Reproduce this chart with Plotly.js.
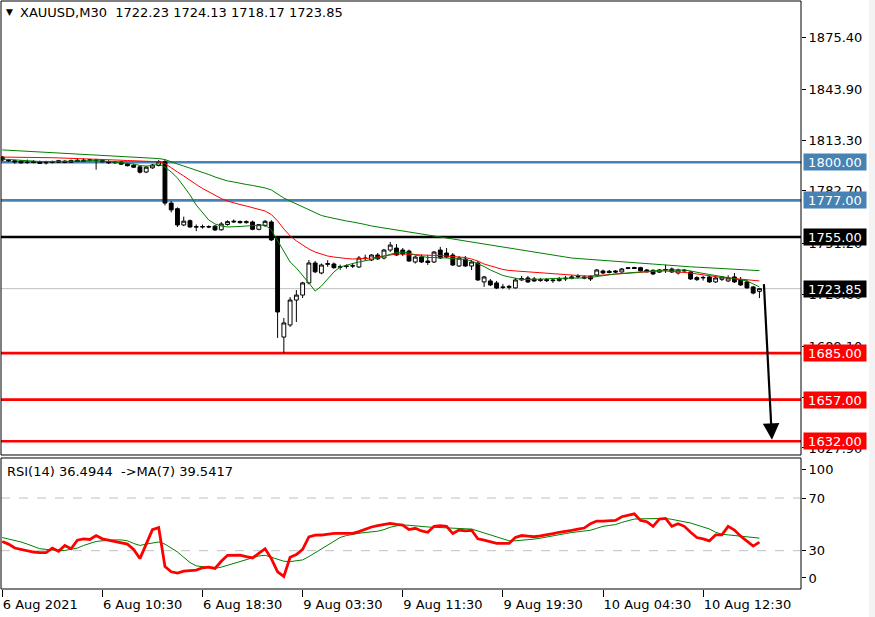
<!DOCTYPE html>
<html>
<head>
<meta charset="utf-8">
<script src="https://cdn.plot.ly/plotly-3.0.1.min.js"></script>
<style>html,body{margin:0;padding:0;background:#fff;}#chart{width:875px;height:617px;}</style>
</head>
<body>
<div id="chart"></div>
<script>
// ---- Price candles (XAUUSD M30), bar 0 = 6 Aug 2021 02:30 ----
const open  = [1803.1,1801.3,1800.9,1800.7,1799.8,1800.5,1800.4,1799.6,1799.8,1800.9,
1800.6,1799.9,1801.2,1800.5,1801.0,1801.4,1801.1,1800.4,1799.7,1800.0,
1799.0,1798.1,1797.2,1794.1,1796.6,1798.0,1800.2,1775.4,1772.0,1762.2,
1764.8,1761.2,1761.0,1761.2,1761.5,1759.3,1762.5,1764.0,1764.3,1763.6,
1764.0,1759.6,1761.8,1764.0,1754.3,1694.7,1702.0,1717.0,1720.0,1727.3,
1739.3,1733.3,1738.5,1738.7,1736.8,1737.2,1737.5,1736.9,1742.3,1741.1,
1744.1,1742.3,1747.1,1748.3,1747.1,1746.5,1739.9,1742.9,1740.5,1739.9,
1747.1,1745.3,1744.1,1737.5,1741.7,1737.5,1739.3,1727.9,1728.5,1727.3,
1724.9,1724.6,1724.3,1729.1,1730.3,1729.7,1728.7,1729.3,1729.1,1728.7,
1729.7,1730.1,1730.9,1730.9,1731.2,1732.1,1734.5,1734.3,1734.5,1733.9,
1736.0,1736.6,1736.5,1735.1,1734.9,1733.8,1735.1,1735.7,1733.3,1735.0,
1733.9,1730.5,1730.3,1730.9,1727.9,1729.5,1728.5,1730.9,1729.1,1727.9,
1724.9,1722.23];
const high  = [1803.7,1802.0,1801.5,1801.3,1801.6,1801.2,1801.0,1800.9,1801.0,1801.4,
1801.3,1801.6,1801.9,1802.3,1802.0,1802.1,1801.8,1801.2,1800.5,1800.6,
1799.6,1799.0,1797.8,1797.7,1799.0,1801.4,1801.6,1776.5,1772.8,1767.2,
1765.5,1762.5,1762.4,1762.0,1762.2,1764.0,1765.0,1765.5,1764.9,1765.0,
1764.8,1762.8,1765.2,1765.0,1755.0,1706.2,1718.8,1723.0,1728.0,1741.1,
1740.5,1739.0,1741.0,1739.6,1738.3,1738.5,1739.2,1743.5,1744.3,1744.6,
1745.3,1747.8,1751.9,1750.7,1748.3,1747.4,1743.8,1744.4,1744.1,1746.5,
1749.0,1748.3,1745.3,1743.5,1743.5,1741.1,1740.5,1731.5,1729.7,1728.5,
1726.7,1726.1,1730.3,1731.5,1731.5,1730.9,1730.3,1730.3,1729.9,1730.9,
1731.5,1732.1,1732.7,1731.9,1731.8,1735.7,1735.3,1735.1,1735.0,1736.3,
1736.8,1737.0,1737.0,1735.6,1735.5,1735.7,1738.3,1736.6,1735.9,1735.7,
1734.6,1731.3,1731.5,1731.5,1730.9,1731.1,1731.9,1733.3,1730.9,1729.1,
1725.5,1724.13];
const low   = [1800.7,1800.3,1799.0,1799.2,1799.0,1799.4,1799.0,1798.6,1799.3,1799.5,
1799.4,1799.6,1800.2,1800.1,1800.5,1795.5,1799.8,1799.0,1799.0,1798.3,
1797.5,1796.5,1793.2,1793.4,1796.0,1797.5,1774.0,1769.8,1761.0,1761.5,
1760.5,1758.5,1760.0,1760.3,1758.6,1758.8,1761.8,1763.4,1763.0,1763.0,
1759.0,1759.0,1761.0,1752.5,1694.2,1685.1,1700.8,1703.8,1718.2,1726.5,
1733.2,1732.5,1737.0,1735.8,1735.2,1735.9,1736.3,1736.3,1740.5,1740.5,
1741.1,1741.5,1746.0,1743.5,1743.5,1740.0,1739.0,1739.3,1738.1,1739.3,
1741.7,1742.3,1737.5,1736.9,1737.0,1735.1,1728.5,1724.9,1725.4,1723.6,
1723.6,1723.3,1723.9,1728.5,1727.3,1727.9,1728.0,1727.9,1727.3,1728.1,
1728.5,1729.5,1730.0,1729.5,1728.5,1731.5,1732.7,1733.0,1733.3,1733.5,
1735.6,1735.8,1734.0,1733.5,1732.0,1733.3,1733.3,1733.3,1732.4,1734.1,
1729.1,1728.5,1728.7,1727.3,1727.3,1728.5,1727.9,1727.3,1725.5,1723.9,
1720.4,1718.17];
const close = [1801.3,1800.9,1800.2,1799.6,1800.0,1799.8,1799.3,1799.8,1800.4,1800.0,
1799.8,1801.0,1800.4,1801.2,1801.5,1801.0,1800.2,1799.6,1799.9,1798.8,
1797.9,1797.0,1794.0,1797.0,1798.3,1800.2,1775.4,1771.3,1762.2,1764.5,
1761.0,1761.0,1761.2,1761.0,1759.2,1762.8,1764.2,1764.4,1763.6,1764.2,
1759.6,1762.4,1764.4,1753.2,1709.8,1703.2,1717.0,1720.0,1727.3,1739.3,
1734.0,1738.1,1738.9,1736.5,1737.0,1737.5,1737.6,1742.3,1742.0,1744.1,
1741.8,1747.1,1750.1,1744.1,1744.7,1740.5,1742.9,1739.9,1739.6,1745.9,
1742.3,1742.9,1738.1,1742.3,1737.5,1739.9,1729.1,1730.9,1726.1,1724.2,
1724.6,1725.2,1729.1,1729.9,1727.9,1728.5,1729.3,1728.7,1728.7,1729.7,
1730.1,1730.9,1731.2,1730.3,1729.7,1735.1,1733.3,1733.6,1733.9,1735.7,
1736.4,1736.0,1734.6,1734.0,1732.7,1735.1,1735.4,1733.9,1735.1,1734.6,
1729.7,1729.3,1730.6,1727.9,1730.3,1730.9,1730.3,1727.9,1726.1,1724.3,
1721.2,1723.85];

// ---- Moving averages on price ----
const maSlow = [1807.4,1807.2,1807.0,1806.8,1806.6,1806.5,1806.3,1806.1,1805.9,1805.7,
1805.5,1805.3,1805.1,1804.8,1804.6,1804.3,1804.1,1803.9,1803.6,1803.4,
1803.1,1803.0,1802.8,1802.6,1802.4,1802.2,1801.6,1800.1,1798.9,1797.7,
1796.5,1795.3,1794.1,1792.6,1791.1,1789.9,1788.7,1788.1,1787.2,1786.6,
1786.0,1785.4,1784.5,1783.3,1780.9,1778.4,1776.6,1774.8,1773.0,1771.2,
1769.4,1767.9,1767.0,1766.1,1765.2,1764.6,1764.0,1763.4,1762.5,1761.6,
1761.0,1760.4,1759.8,1759.2,1758.6,1758.0,1757.4,1756.8,1756.2,1755.6,
1755.0,1754.4,1753.8,1753.2,1752.3,1751.7,1751.0,1750.4,1749.8,1749.2,
1748.6,1748.0,1747.4,1746.8,1746.2,1745.6,1745.0,1744.4,1743.8,1743.2,
1742.6,1742.3,1742.0,1741.7,1741.4,1741.1,1740.8,1740.5,1740.2,1739.9,
1739.6,1739.3,1739.0,1738.7,1738.4,1738.1,1737.9,1737.7,1737.5,1737.3,
1737.0,1736.8,1736.6,1736.4,1736.2,1736.0,1735.9,1735.7,1735.4,1735.2,
1735.0,1734.7];
const maMid = [1803.1,1803.1,1803.0,1803.0,1802.9,1802.8,1802.8,1802.7,1802.7,1802.6,
1802.5,1802.4,1802.3,1802.2,1802.0,1801.9,1801.7,1801.6,1801.4,1801.2,
1801.0,1800.9,1800.7,1800.5,1800.4,1800.3,1799.2,1796.5,1794.1,1791.7,
1789.0,1786.6,1784.2,1782.0,1779.9,1778.1,1776.6,1775.4,1774.5,1773.6,
1772.7,1771.8,1770.6,1768.5,1764.6,1759.8,1755.6,1752.6,1749.9,1747.7,
1745.9,1744.7,1743.5,1742.9,1742.3,1742.0,1741.7,1741.7,1742.0,1742.3,
1742.9,1743.5,1744.1,1744.7,1744.7,1744.7,1744.4,1744.1,1744.1,1743.8,
1743.8,1743.5,1743.2,1742.9,1742.6,1741.7,1740.5,1738.7,1737.5,1736.3,
1735.4,1734.8,1734.5,1734.2,1733.9,1733.6,1733.3,1733.0,1732.7,1732.4,
1732.1,1731.8,1731.5,1731.5,1731.5,1731.8,1732.1,1732.1,1732.4,1732.7,
1733.3,1733.6,1733.9,1734.2,1734.5,1734.5,1734.5,1734.2,1733.9,1733.9,
1733.3,1732.7,1732.1,1731.5,1730.9,1730.6,1730.3,1730.0,1729.7,1729.4,
1729.1,1728.5];
const maFast = [1801.9,1801.6,1801.3,1801.0,1800.7,1800.7,1800.4,1800.4,1800.4,1800.4,
1800.4,1800.7,1800.7,1800.7,1801.0,1801.0,1800.7,1800.4,1800.1,1799.8,
1799.5,1798.9,1798.0,1797.7,1798.0,1798.9,1797.1,1794.1,1790.5,1785.7,
1780.3,1774.2,1769.4,1765.2,1762.8,1761.6,1761.0,1761.0,1761.3,1761.6,
1761.9,1762.2,1762.2,1759.2,1752.6,1745.9,1739.9,1736.3,1732.1,1727.3,
1722.4,1725.4,1729.7,1733.9,1736.9,1738.1,1739.0,1739.9,1740.5,1741.4,
1742.3,1743.5,1744.7,1745.6,1745.9,1745.3,1744.1,1743.2,1742.6,1742.6,
1742.6,1742.3,1742.0,1741.7,1741.4,1740.5,1739.0,1737.2,1735.1,1733.3,
1731.8,1730.9,1730.0,1729.4,1729.4,1729.4,1729.7,1729.7,1730.0,1730.0,
1730.3,1730.3,1730.3,1730.3,1730.6,1731.2,1731.8,1732.1,1732.7,1733.0,
1733.3,1733.9,1734.2,1734.5,1734.5,1734.8,1735.1,1735.1,1735.1,1735.1,
1734.5,1733.6,1733.0,1732.4,1731.8,1731.2,1730.6,1730.0,1729.4,1728.5,
1726.7,1724.9];

// ---- RSI(14) and its MA(7) ----
const rsi = [37,35,32,31,29.5,29,28.5,28.5,32,29.5,
34,31.5,38,39,38.5,41.5,39,38,37.5,36.5,
35,31,24,35,46,47.5,18,14,13,14.5,
15,15.2,17,17.5,16.5,22,26.5,26.7,26.7,25.5,
24.5,28,31.5,24,14,10.5,25,27,31,40.5,
41.8,41.9,42.5,43.2,43.2,43.2,43.2,44.5,46.5,48,
49,50,50.8,50,49.5,46,47,45,44,48.5,
49,48.5,43,45.7,45,45.5,39,38,37,35.6,
35.6,35.6,40,41.5,41,40.6,41.3,42,43,44,
45,45.5,46.4,47.2,50.5,52.5,52.5,52.5,53,55.8,
57,58,53,52,48.5,54,54.5,48.5,50.5,48.5,
44,40,39,37.5,42,42,48.5,45.7,41,37.5,
33.5,36.4944];
const rsiMa = [40,39,38,36.6,35,33.5,31.5,31,30.5,30,
30.2,31,32,34,35.5,37,37.5,38,38.2,38.2,
37.5,35.5,34,35,36,36.6,35,32,29,25,
21,18.5,17.9,17.2,16.6,17.5,19,20.5,22,23.5,
25,26,26.5,25,23.5,22,21.7,22.5,23,25.5,
28.5,31.5,34.5,37.5,40,41.5,42.5,43.2,43.8,44.2,
44.8,46,47.8,48.8,49.5,49.3,48.8,48.2,48,47.8,
47.5,47.2,47,46.8,46.6,46.4,45,43.5,42,40.5,
39,37.5,37.5,37.8,38.2,38.8,39.5,40.5,41.5,42.2,
43,43.8,44.3,44.5,45.5,47,48.5,49.2,49.8,51.5,
53,54,54.2,54.3,54.4,54.6,54.5,53.8,53,52,
51,49.5,48.2,46.5,44,42.5,42,41.5,41.2,41,
40.5,39.5417];

// ---- Axis ticks / labels ----
const timeTickBars = [0,16,32,48,64,80,96,112];
const timeTickText = ["6 Aug 2021","6 Aug 10:30","6 Aug 18:30","9 Aug 03:30","9 Aug 11:30","9 Aug 19:30","10 Aug 04:30","10 Aug 12:30"];
const priceTicks = [1875.40,1843.90,1813.30,1782.70,1751.20,1720.60,1689.10,1658.50,1627.90];
const rsiTickPos = [92,70,30,9.3];
const rsiTickText = ["100","70","30","0"];

// ---- Horizontal levels ----
const levelPrices = [1800.00,1777.00,1755.00,1685.00,1657.00,1632.00];
const levelColors = ["#4682B4","#4682B4","#000000","#FF0000","#FF0000","#FF0000"];
const lastPrice = 1723.85;
const rsiLevels = [70,30];
const arrowFrom = {bar:121.7, price:1727.5};
const arrowTo = {bar:123.0, price:1632.8};

const bars = open.map((_, i) => i);
const FONT = "DejaVu Sans";

const traces = [
  {type:"scatter", mode:"lines", x:bars, y:maSlow, xaxis:"x", yaxis:"y", line:{color:"#008000", width:1}, hoverinfo:"skip"},
  {type:"scatter", mode:"lines", x:bars, y:maMid, xaxis:"x", yaxis:"y", line:{color:"#FF0000", width:1}, hoverinfo:"skip"},
  {type:"scatter", mode:"lines", x:bars, y:maFast, xaxis:"x", yaxis:"y", line:{color:"#008000", width:1}, hoverinfo:"skip"},
  {type:"candlestick", x:bars, open:open, high:high, low:low, close:close, xaxis:"x", yaxis:"y",
   increasing:{line:{color:"#000000", width:1}, fillcolor:"#FFFFFF"},
   decreasing:{line:{color:"#000000", width:1}, fillcolor:"#000000"},
   whiskerwidth:0, hoverinfo:"skip"},
  {type:"scatter", mode:"lines", x:bars, y:rsiMa, xaxis:"x2", yaxis:"y2", line:{color:"#008000", width:1}, hoverinfo:"skip"},
  {type:"scatter", mode:"lines", x:bars, y:rsi, xaxis:"x2", yaxis:"y2", line:{color:"#FF0000", width:2.8}, hoverinfo:"skip"}
];

const shapes = [];
const annotations = [];
// light strip at the window's right edge
shapes.push({type:"rect", xref:"paper", x0:1.0851, x1:1.1, yref:"paper", y0:-0.06, y1:1.01, line:{width:0}, fillcolor:"#F3F3F3", layer:"below"});
// current price line
shapes.push({type:"line", xref:"paper", x0:0, x1:1, yref:"y", y0:lastPrice, y1:lastPrice, line:{color:"#C0C0C0", width:1}, layer:"below"});
levelPrices.forEach((p, k) => {
  shapes.push({type:"line", xref:"paper", x0:0, x1:1, yref:"y", y0:p, y1:p, line:{color:levelColors[k], width:2.6}, layer:"below"});
});
rsiLevels.forEach(v => {
  shapes.push({type:"line", xref:"paper", x0:0, x1:1, yref:"y2", y0:v, y1:v, line:{color:"#C0C0C0", width:1, dash:"dash"}, layer:"below"});
});
// panel frames
shapes.push({type:"rect", xref:"paper", x0:0, x1:1, yref:"y domain", y0:0, y1:1, line:{color:"#000000", width:1}, fillcolor:"rgba(0,0,0,0)"});
shapes.push({type:"rect", xref:"paper", x0:0, x1:1, yref:"y2 domain", y0:0, y1:1, line:{color:"#000000", width:1}, fillcolor:"rgba(0,0,0,0)"});

// price-level labels
const allLabels = levelPrices.map((p,k)=>({p:p, c:levelColors[k]})).concat([{p:lastPrice, c:"#000000"}]);
allLabels.forEach(o => {
  annotations.push({xref:"paper", x:1, xanchor:"left", xshift:2, yref:"y", y:o.p, yanchor:"middle",
    text:o.p.toFixed(2), showarrow:false, bgcolor:o.c, width:62, height:16, align:"center",
    font:{family:FONT, size:13, color:"#FFFFFF"}, borderpad:0});
});
// arrow
annotations.push({xref:"x", yref:"y", x:arrowTo.bar, y:arrowTo.price, axref:"x", ayref:"y", ax:arrowFrom.bar, ay:arrowFrom.price,
  text:"", showarrow:true, arrowhead:2, arrowsize:1.5, arrowwidth:2.2, arrowcolor:"#000000"});
// headers
annotations.push({xref:"paper", yref:"paper", x:0.004, y:0.982, xanchor:"left", yanchor:"middle", showarrow:false,
  text:"▼", font:{family:FONT, size:9, color:"#000000"}});
annotations.push({xref:"paper", yref:"paper", x:0.021, y:0.981, xanchor:"left", yanchor:"middle", showarrow:false,
  text:"XAUUSD,M30&nbsp; 1722.23 1724.13 1718.17 1723.85", font:{family:FONT, size:13, color:"#000000"}});
annotations.push({xref:"paper", yref:"paper", x:0.005, y:0.199, xanchor:"left", yanchor:"middle", showarrow:false,
  text:"RSI(14) 36.4944&nbsp; -&gt;MA(7) 39.5417", font:{family:FONT, size:13, color:"#000000"}});

const layout = {
  width:875, height:617,
  margin:{l:1, r:74, t:1, b:28},
  paper_bgcolor:"#FFFFFF", plot_bgcolor:"#FFFFFF",
  showlegend:false,
  boxgap:0.12,
  font:{family:FONT, size:13, color:"#000000"},
  xaxis:{domain:[0,1], anchor:"y", range:[-0.2,127.64], showticklabels:false, ticks:"", showgrid:false, zeroline:false,
    rangeslider:{visible:false}, fixedrange:true},
  xaxis2:{domain:[0,1], anchor:"y2", matches:"x", range:[-0.2,127.64], tickmode:"array", tickvals:timeTickBars, ticktext:timeTickText,
    ticks:"outside", ticklen:7, tickcolor:"#000000", ticklabelposition:"outside right", ticklabelstandoff:3,
    showgrid:false, zeroline:false, tickfont:{family:FONT, size:13, color:"#000000"}},
  yaxis:{domain:[0.2279,1], anchor:"x", side:"right", range:[1623.68,1897.08], tickmode:"array", tickvals:priceTicks,
    ticktext:priceTicks.map(v=>v.toFixed(2)), ticks:"outside", ticklen:4, tickcolor:"#000000", showgrid:false, zeroline:false,
    tickfont:{family:FONT, size:13, color:"#000000"}},
  yaxis2:{domain:[0,0.2228], anchor:"x2", side:"right", range:[0.9,100.4], tickmode:"array", tickvals:rsiTickPos, ticktext:rsiTickText,
    ticks:"outside", ticklen:4, tickcolor:"#000000", showgrid:false, zeroline:false,
    tickfont:{family:FONT, size:13, color:"#000000"}},
  shapes:shapes,
  annotations:annotations
};

Plotly.newPlot("chart", traces, layout, {staticPlot:true, displayModeBar:false});
</script>
</body>
</html>
